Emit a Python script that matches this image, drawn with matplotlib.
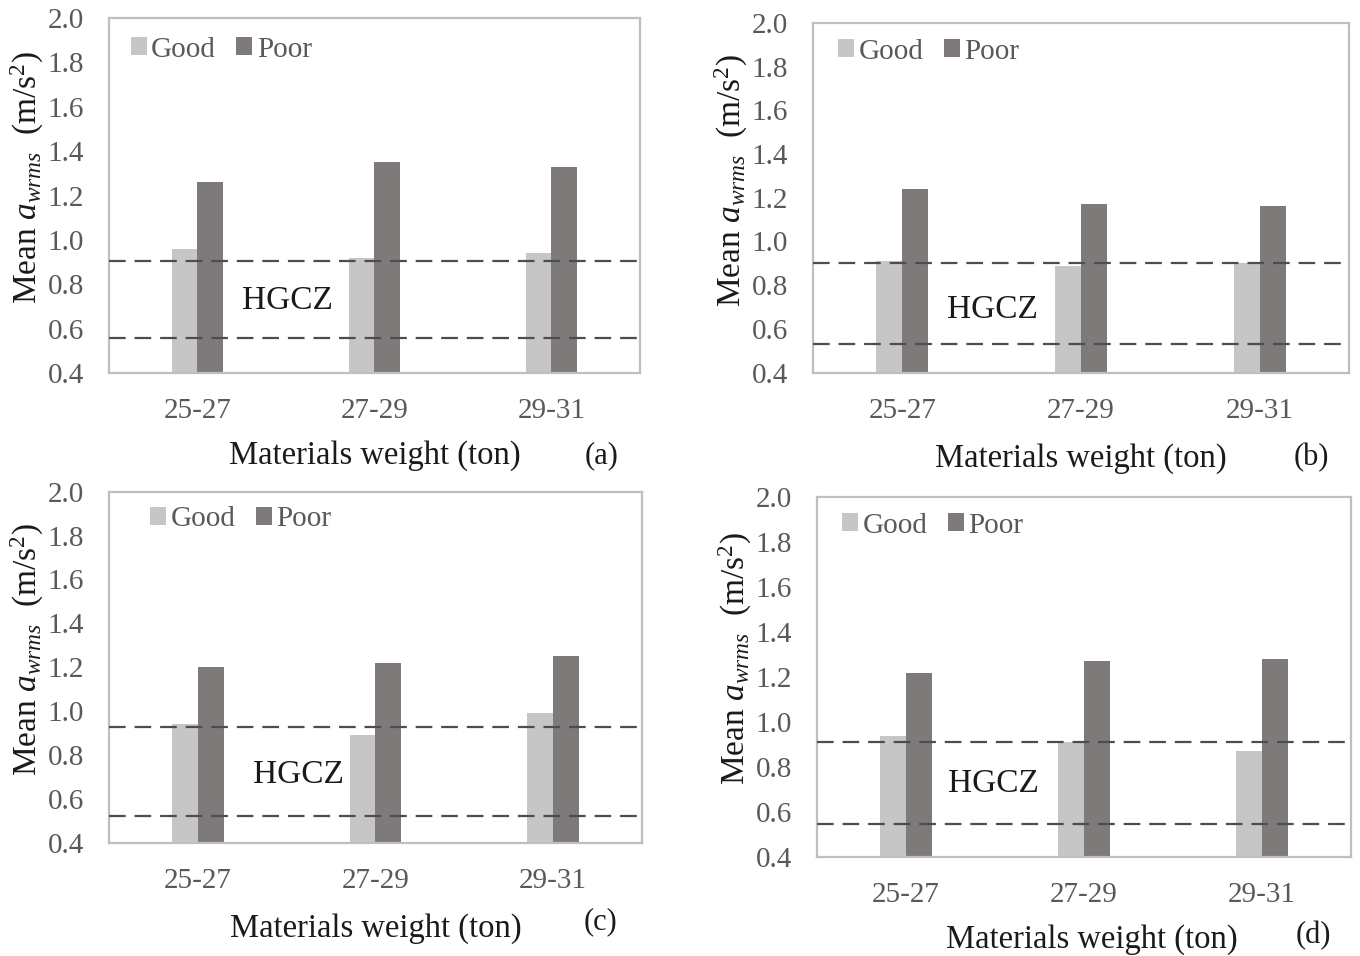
import matplotlib
matplotlib.use("Agg")
import matplotlib.pyplot as plt
import numpy as np

plt.rcParams["font.family"] = ["Liberation Serif", "DejaVu Serif"]
plt.rcParams["mathtext.fontset"] = "custom"
plt.rcParams["mathtext.rm"] = "Liberation Serif"
plt.rcParams["mathtext.it"] = "Liberation Serif:italic"

# Weight classes and mean a_wrms per road condition, one list per panel
categories = ["25-27", "27-29", "29-31"]
panel_tags = ["(a)", "(b)", "(c)", "(d)"]

good_a = [0.96, 0.92, 0.94]
poor_a = [1.26, 1.35, 1.33]
good_b = [0.91, 0.89, 0.90]
poor_b = [1.24, 1.17, 1.16]
good_c = [0.94, 0.89, 0.99]
poor_c = [1.20, 1.22, 1.25]
good_d = [0.94, 0.91, 0.87]
poor_d = [1.22, 1.27, 1.28]

# Health guidance caution zone limits (lower, upper) per panel
hgcz_a = [0.556, 0.905]
hgcz_b = [0.533, 0.900]
hgcz_c = [0.523, 0.929]
hgcz_d = [0.548, 0.912]

good_series = [good_a, good_b, good_c, good_d]
poor_series = [poor_a, poor_b, poor_c, poor_d]
hgcz_series = [hgcz_a, hgcz_b, hgcz_c, hgcz_d]

y_ticks = [0.4, 0.6, 0.8, 1.0, 1.2, 1.4, 1.6, 1.8, 2.0]

GOOD_COLOR = "#c6c6c6"
POOR_COLOR = "#7f7a7a"
FRAME_COLOR = "#bfbfbf"
TICK_COLOR = "#595959"
TEXT_COLOR = "#1a1a1a"

fig = plt.figure(figsize=(13.6, 9.56), dpi=100)

axes_rects = [
    [0.0801, 0.6098, 0.3904, 0.3713],
    [0.5978, 0.6101, 0.3941, 0.3661],
    [0.0801, 0.1185, 0.3919, 0.3672],
    [0.6007, 0.1032, 0.3926, 0.3772],
]
# Placement of the zone label (category units, value units)
hgcz_text_pos = [(0.51, 0.724), (0.507, 0.687), (0.564, 0.709), (0.489, 0.728)]
xlabel_pos = [(0.50, -0.233), (0.50, -0.245), (0.50, -0.246), (0.515, -0.229)]
tag_pos = [(0.928, -0.234), (0.929, -0.242), (0.923, -0.224), (0.929, -0.216)]
legend_anchor = [(0.041, 0.948), (0.047, 0.955), (0.077, 0.958), (0.047, 0.956)]

bar_w = 0.145
x = np.arange(len(categories))

for i, rect in enumerate(axes_rects):
    ax = fig.add_axes(rect)
    ax.bar(x - bar_w / 2, good_series[i], bar_w, bottom=0,
           color=GOOD_COLOR, label="Good", zorder=2)
    ax.bar(x + bar_w / 2, poor_series[i], bar_w, bottom=0,
           color=POOR_COLOR, label="Poor", zorder=2)
    for lim in hgcz_series[i]:
        ax.axhline(lim, color="#4d4d4d", lw=1.6, linestyle=(0, (7.5, 4)), zorder=3)

    ax.set_xlim(-0.5, len(categories) - 0.5)
    ax.set_ylim(0.4, 2.0)
    ax.set_yticks(y_ticks)
    ax.set_yticklabels([f"{v:.1f}" for v in y_ticks])
    ax.set_xticks(x)
    ax.set_xticklabels(categories)
    ax.tick_params(axis="both", length=0, labelsize=21, colors=TICK_COLOR)
    ax.tick_params(axis="y", pad=18)
    ax.tick_params(axis="x", pad=18)
    for s in ax.spines.values():
        s.set_color(FRAME_COLOR)
        s.set_linewidth(1.6)

    ax.text(hgcz_text_pos[i][0], hgcz_text_pos[i][1], "HGCZ",
            fontsize=24, color=TEXT_COLOR, ha="center", va="center", zorder=4)

    ax.set_xlabel("Materials weight (ton)", fontsize=23.5, color=TEXT_COLOR)
    ax.xaxis.label.set_va("center")
    ax.xaxis.set_label_coords(*xlabel_pos[i])
    ax.set_ylabel(r"Mean $a_{wrms}$  (m/s$^{2}$)", fontsize=24, color=TEXT_COLOR)
    ax.yaxis.label.set_va("center")
    ax.yaxis.set_label_coords(-0.153, 0.55)

    ax.text(tag_pos[i][0], tag_pos[i][1], panel_tags[i], transform=ax.transAxes,
            fontsize=22, color=TEXT_COLOR, ha="center", va="center")

    leg = ax.legend(loc="upper left", bbox_to_anchor=legend_anchor[i], ncol=2,
                    frameon=False, fontsize=21, handlelength=0.55, handleheight=0.55,
                    handletextpad=0.15, columnspacing=0.7, borderaxespad=0,
                    borderpad=0)
    for t in leg.get_texts():
        t.set_color(TICK_COLOR)

fig.savefig("out.png", dpi=100, facecolor="white")
